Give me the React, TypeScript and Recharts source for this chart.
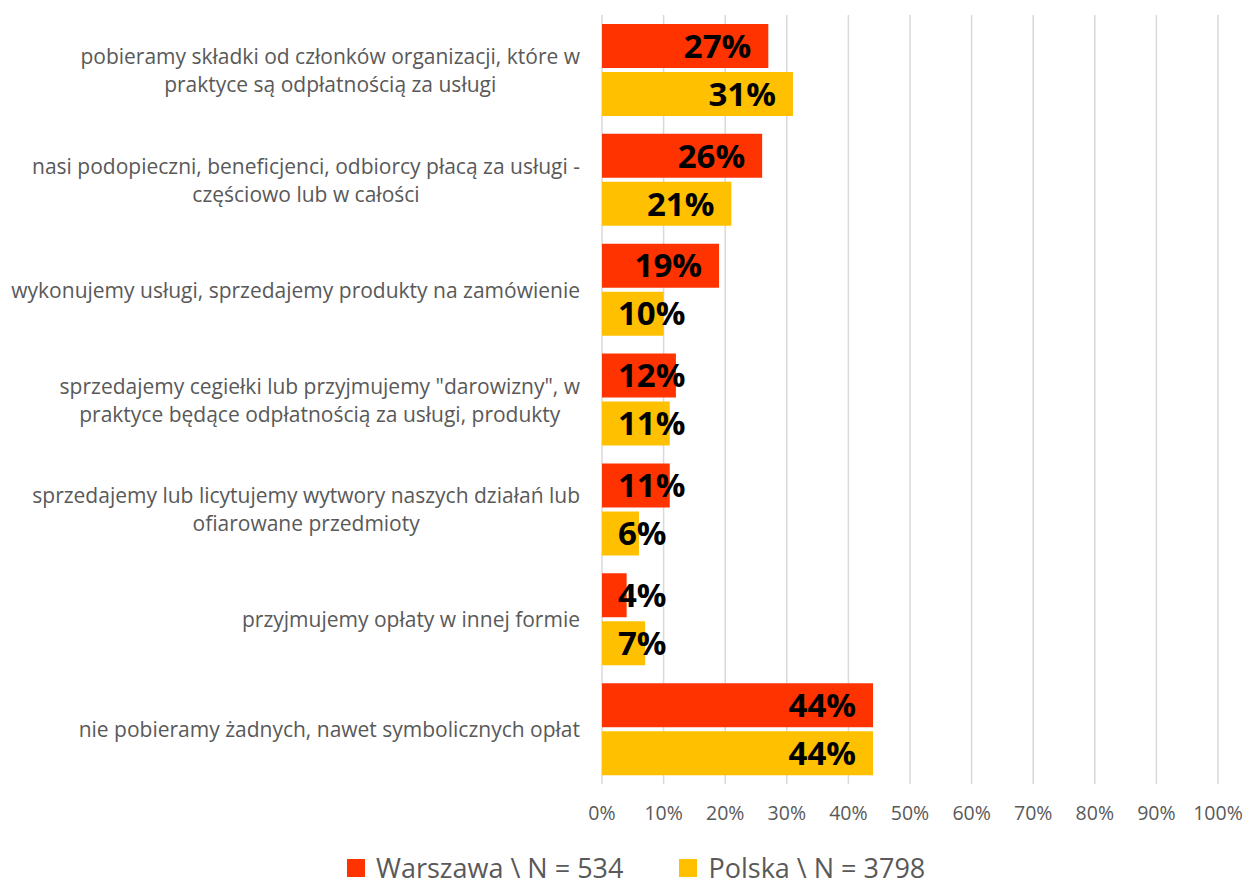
import React from "react";
import { BarChart, Bar, XAxis, YAxis, CartesianGrid, Legend, LabelList } from "recharts";

// odpowiedzi (linie łamane jak w oryginale)
const categories = [
  "pobieramy składki od członków organizacji, które w\npraktyce są odpłatnością za usługi",
  "nasi podopieczni, beneficjenci, odbiorcy płacą za usługi -\nczęściowo lub w całości",
  "wykonujemy usługi, sprzedajemy produkty na zamówienie",
  "sprzedajemy cegiełki lub przyjmujemy \"darowizny\", w\npraktyce będące odpłatnością za usługi, produkty",
  "sprzedajemy lub licytujemy wytwory naszych działań lub\nofiarowane przedmioty",
  "przyjmujemy opłaty w innej formie",
  "nie pobieramy żadnych, nawet symbolicznych opłat",
];
const warszawa = [27, 26, 19, 12, 11, 4, 44];
const polska = [31, 21, 10, 11, 6, 7, 44];
const percentTicks = [0, 10, 20, 30, 40, 50, 60, 70, 80, 90, 100];
const seriesNames = ["Warszawa \\ N = 534", "Polska \\ N = 3798"];

const colors = ["#FF3300", "#FFC000"];
const FONT = "'Open Sans', 'DejaVu Sans', sans-serif";
const GRAY = "#595959";
const CAT_SIZE = 21;
const LABEL_SIZE = 33;

const data = categories.map((name, i) => ({
  name,
  warszawa: warszawa[i],
  polska: polska[i],
}));

let ctx: CanvasRenderingContext2D | null = null;
const measure = (text: string, font: string) => {
  if (!ctx) ctx = document.createElement("canvas").getContext("2d");
  if (!ctx) return text.length * 10;
  ctx.font = font;
  return ctx.measureText(text).width;
};

const CategoryTick = (props: any) => {
  const { x, y, payload } = props;
  const lines: string[] = String(payload.value).split("\n");
  const font = `${CAT_SIZE}px 'Open Sans'`;
  const maxW = Math.max(...lines.map((l) => measure(l, font)));
  const cx = x - maxW / 2;
  const lh = 28;
  const top = y - ((lines.length - 1) * lh) / 2;
  return (
    <g>
      {lines.map((l, i) => (
        <text
          key={i}
          x={cx}
          y={top + i * lh}
          textAnchor="middle"
          dominantBaseline="central"
          fill={GRAY}
          fontFamily={FONT}
          fontSize={CAT_SIZE}
        >
          {l}
        </text>
      ))}
    </g>
  );
};

// etykieta wewnątrz końca słupka, przy krótkich słupkach dosunięta od lewej
const ValueLabel = (props: any) => {
  const { x, y, width, height, value } = props;
  const text = `${value}%`;
  const w = measure(text, `bold ${LABEL_SIZE}px 'Open Sans'`);
  const left = Math.max(x + width - 17 - w, x + 16);
  return (
    <text
      x={left}
      y={y + height / 2 + LABEL_SIZE * 0.357}
      textAnchor="start"
      fill="#000"
      fontFamily={FONT}
      fontWeight="bold"
      fontSize={LABEL_SIZE}
    >
      {text}
    </text>
  );
};

const LegendContent = () => (
  <div
    style={{
      display: "flex",
      alignItems: "center",
      paddingLeft: 347,
      fontFamily: FONT,
      fontSize: 27,
      lineHeight: "28px",
      color: GRAY,
      height: 28,
    }}
  >
    {seriesNames.map((n, i) => (
      <div key={n} style={{ display: "flex", alignItems: "center", marginRight: 56 }}>
        <span
          style={{ display: "inline-block", width: 18, height: 18, background: colors[i], marginRight: 11 }}
        />
        <span>{n}</span>
      </div>
    ))}
  </div>
);

export default function App() {
  return (
    <div style={{ position: "absolute", left: 0, top: 0, background: "#fff" }}>
      <BarChart
        width={1247}
        height={887}
        data={data}
        layout="vertical"
        margin={{ top: 15, right: 29, left: 0, bottom: 43 }}
        barSize={44}
        barGap={4}
      >
        <CartesianGrid horizontal={false} stroke="#D9D9D9" strokeWidth={1.5} />
        <XAxis
          type="number"
          domain={[0, 100]}
          ticks={percentTicks}
          tickFormatter={(v) => `${v}%`}
          axisLine={false}
          tickLine={false}
          tickMargin={16}
          height={60}
          interval={0}
          tick={{ fill: GRAY, fontFamily: FONT, fontSize: 19.5 }}
        />
        <YAxis
          type="category"
          dataKey="name"
          width={602}
          axisLine={false}
          tickLine={false}
          tickMargin={16}
          interval={0}
          tick={<CategoryTick />}
        />
        <Legend
          layout="vertical"
          align="center"
          content={<LegendContent />}
          wrapperStyle={{ top: 854, left: 0, width: 1247, height: 0, overflow: "visible", bottom: "auto" }}
        />
        <Bar dataKey="warszawa" name={seriesNames[0]} fill={colors[0]} isAnimationActive={false}>
          <LabelList dataKey="warszawa" content={<ValueLabel />} />
        </Bar>
        <Bar dataKey="polska" name={seriesNames[1]} fill={colors[1]} isAnimationActive={false}>
          <LabelList dataKey="polska" content={<ValueLabel />} />
        </Bar>
      </BarChart>
    </div>
  );
}
